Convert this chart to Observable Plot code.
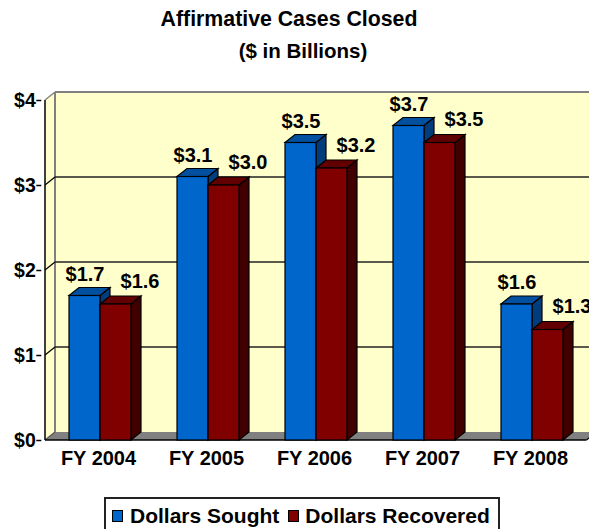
<!DOCTYPE html>
<html><head><meta charset="utf-8">
<script src="https://cdn.jsdelivr.net/npm/d3@7"></script>
<script src="https://cdn.jsdelivr.net/npm/@observablehq/plot@0.6"></script>
<style>
html,body{margin:0;padding:0;background:#fff;width:589px;height:529px;overflow:hidden;font-family:"Liberation Sans",Arial,sans-serif;color:#000}
#wrap{position:relative;width:589px;height:529px;overflow:hidden}
.t{position:absolute;left:0;text-align:center;font-weight:bold;white-space:nowrap}
#chart{position:absolute;left:0;top:65px}
#legend{position:absolute;left:104px;top:497px;width:391.5px;height:33px;border:2px solid #222;display:flex;align-items:center;font-weight:bold;font-size:21px;white-space:nowrap;box-sizing:content-box}
.sw{display:inline-block;width:9px;height:10px;border:1.5px solid #000;margin:0 7px 0 6px}
.sw+span+.sw{margin:0 6px 0 9px}
</style></head><body>
<div id="wrap">
<div class="t" style="top:7px;width:578px;font-size:21.3px">Affirmative Cases Closed</div>
<div class="t" style="top:39px;width:606px;font-size:20.5px">($ in Billions)</div>
<div id="chart"></div>
<div id="legend"></div>
</div>
<script>
const years = ["FY 2004","FY 2005","FY 2006","FY 2007","FY 2008"];
const seriesNames = ["Dollars Sought","Dollars Recovered"];
const sought = [1.7,3.1,3.5,3.7,1.6];
const recovered = [1.6,3.0,3.2,3.5,1.3];
const yTicks = [0,1,2,3,4];
const frontColors = ["#0066CC","#800000"];
const topColors = ["#00509F","#600000"];
const sideColors = ["#003D7A","#400000"];
const depthX = 10, depthY = 8;
const W = 589, mLeft = 45, mRight = 2.5;

const rows = [
  ...years.map((year,i)=>({year,series:seriesNames[0],value:sought[i]})),
  ...years.map((year,i)=>({year,series:seriesNames[1],value:recovered[i]}))
];
const NS = "http://www.w3.org/2000/svg";
function poly(pts,fill,stroke,sw){
  const p=document.createElementNS(NS,"polygon");
  p.setAttribute("points",pts.map(d=>d.join(",")).join(" "));
  p.setAttribute("fill",fill);
  if(stroke){p.setAttribute("stroke",stroke);p.setAttribute("stroke-width",sw||1);}
  return p;
}
function seg(a,b,stroke,sw){
  const l=document.createElementNS(NS,"line");
  l.setAttribute("x1",a[0]);l.setAttribute("y1",a[1]);l.setAttribute("x2",b[0]);l.setAttribute("y2",b[1]);
  l.setAttribute("stroke",stroke);l.setAttribute("stroke-width",sw||1);
  return l;
}
// Walls, floor and gridlines, positioned through the y scale
function shell(index,scales,values,dims){
  const g=document.createElementNS(NS,"g");
  const L=mLeft,R=W-mRight;
  const y0=scales.y(0),y4=scales.y(4);
  g.append(poly([[L,y0],[L+depthX,y0-depthY],[R+depthX,y0-depthY],[R+depthX,y4-depthY],[L+depthX,y4-depthY],[L,y4]],"#FFFFCC"));
  g.append(poly([[L,y0],[L+depthX,y0-depthY],[R+depthX,y0-depthY],[R,y0]],"#808080"));
  g.append(seg([L+depthX,y4-depthY],[R+depthX,y4-depthY],"#808080",2));
  g.append(seg([L+depthX,y4-depthY],[L+depthX,y0-depthY],"#808080",2));
  g.append(seg([L,y4],[L+depthX,y4-depthY],"#808080",1.5));
  for(const t of yTicks){
    if(t===0||t===4) continue;
    const y=scales.y(t);
    g.append(seg([L,y],[L+depthX,y-depthY],"#000",1.2));
    g.append(seg([L+depthX,y-depthY],[R+depthX,y-depthY],"#222",1.5));
  }
  g.append(seg([L,y0],[L+depthX,y0-depthY],"#555",1.2));
  g.append(seg([L,y4],[L,y0],"#000",1.5));
  g.append(seg([L,y0],[R,y0],"#000",1.5));
  g.append(seg([R,y0],[R+depthX,y0-depthY],"#000",1.2));
  return g;
}
// Front face from the library; side and top faces derived from the same scaled values
function bars3d(s){
  return function(index,scales,values,dims,context,next){
    const g=document.createElementNS(NS,"g");
    const w=scales.x.bandwidth();
    for(const i of index){
      const x=values.x[i],top=values.y2[i],base=values.y1[i];
      g.append(poly([[x+w,top],[x+w+depthX,top-depthY],[x+w+depthX,base-depthY],[x+w,base]],sideColors[s],"#000",1.2));
      g.append(poly([[x,top],[x+depthX,top-depthY],[x+w+depthX,top-depthY],[x+w,top]],topColors[s],"#000",1.2));
    }
    g.append(next(index,scales,values,dims,context));
    return g;
  };
}
const font='"Liberation Sans",Arial,sans-serif';
const chart = Plot.plot({
  width:W,height:410,
  marginLeft:mLeft,marginRight:mRight,marginTop:35,marginBottom:35,
  style:{background:"transparent",fontFamily:font,overflow:"hidden"},
  fx:{domain:years,paddingInner:0.43,paddingOuter:0.21,label:null,axis:null},
  x:{domain:seriesNames,padding:0,axis:null,label:null},
  y:{domain:[0,4],axis:null,label:null},
  marks:[
    Plot.frame({facet:"super",stroke:"none",render:shell}),
    ...seriesNames.map((name,s)=>Plot.barY(rows.filter(d=>d.series===name),{
      fx:"year",x:"series",y1:0,y2:"value",fill:frontColors[s],stroke:"#000",strokeWidth:1.2,render:bars3d(s)
    })),
    Plot.axisFx({domain:years,anchor:"bottom",label:null,tickSize:0,tickPadding:10,dx:-2,fontSize:20,fontWeight:"bold",fill:"#000"}),
    Plot.axisY({dx:-27.7,ticks:yTicks,tickFormat:d=>"$"+d,tickSize:5,tickPadding:1,label:null,fontSize:19.5,fontWeight:"bold",stroke:"#000",strokeWidth:1.5}),
    Plot.text(rows.filter(d=>d.series===seriesNames[0]),{fx:"year",x:"series",y:"value",text:d=>"$"+d.value.toFixed(1),dx:0,dy:-21.5,fontSize:20,fontWeight:"bold",fill:"#000"}),
    Plot.text(rows.filter(d=>d.series===seriesNames[1]),{fx:"year",x:"series",y:"value",text:d=>"$"+d.value.toFixed(1),dx:24,dy:-23,fontSize:20,fontWeight:"bold",fill:"#000"})
  ]
});
document.getElementById("chart").append(chart);
const legend=document.getElementById("legend");
seriesNames.forEach((n,i)=>{
  const sw=document.createElement("span");sw.className="sw";sw.style.background=frontColors[i];
  const tx=document.createElement("span");tx.textContent=n;
  legend.append(sw,tx);
});
</script>
</body></html>
